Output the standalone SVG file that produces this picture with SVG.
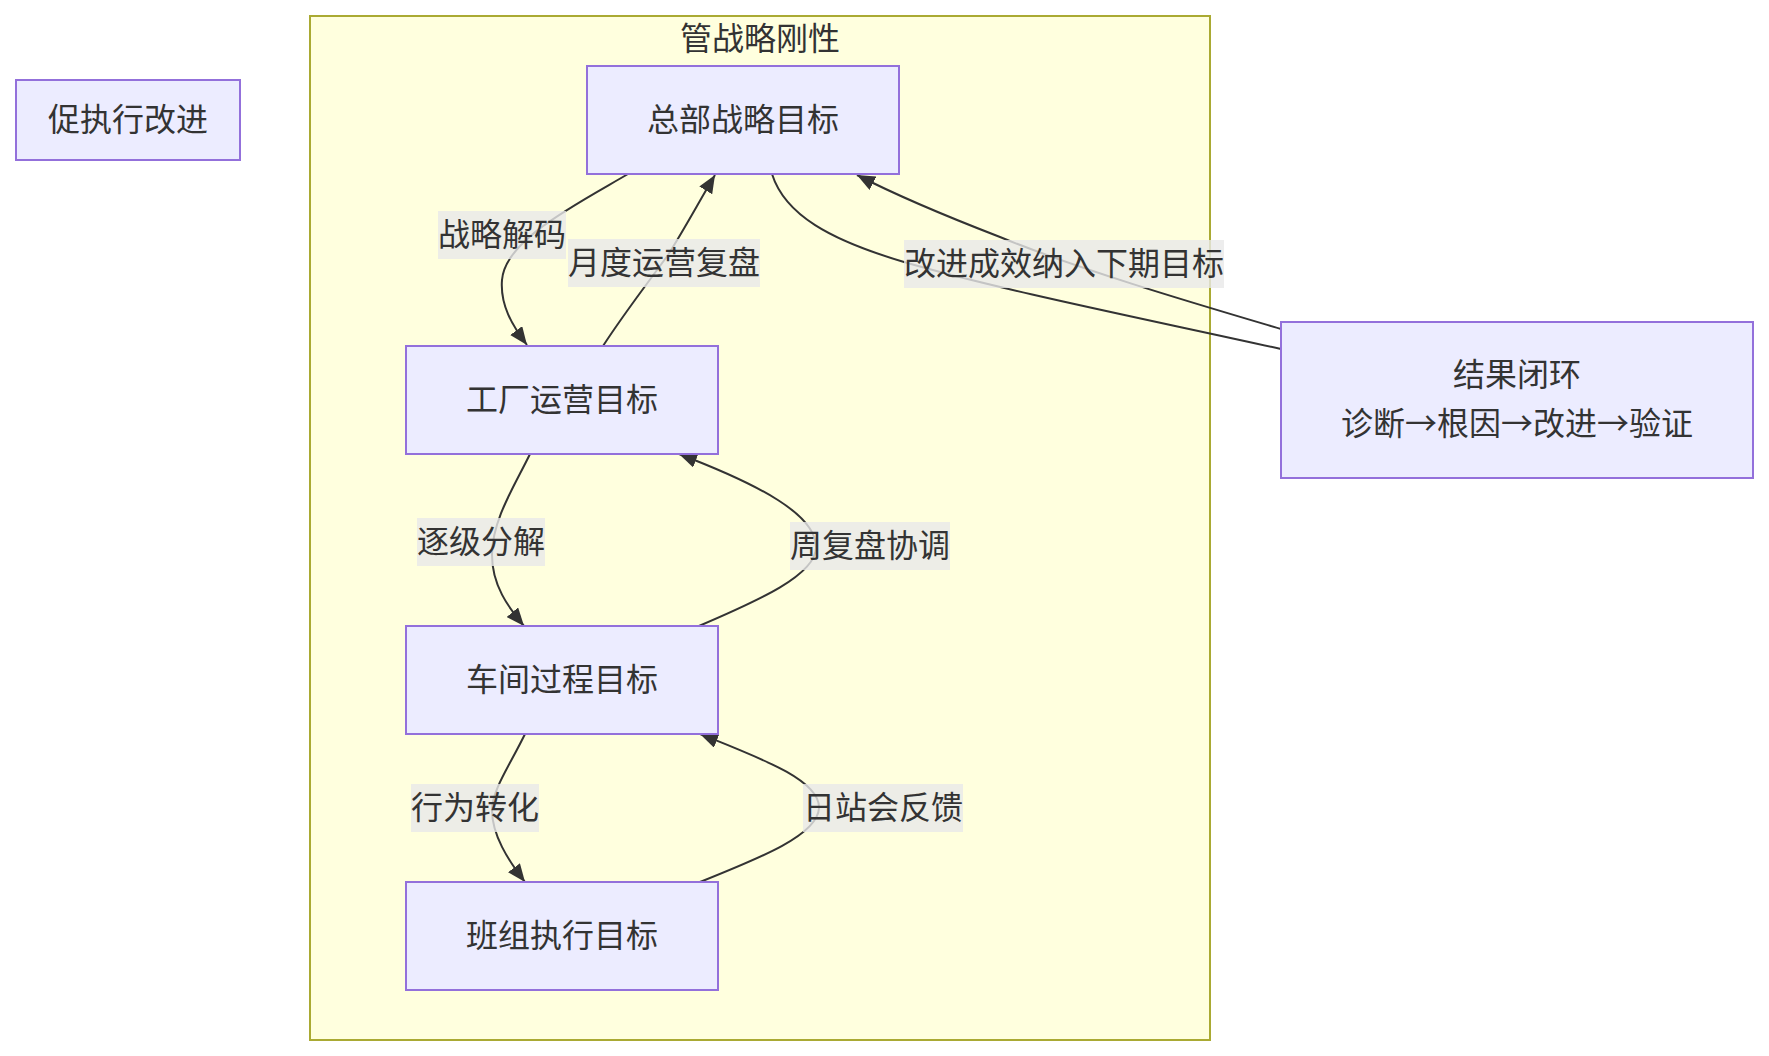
<svg xmlns="http://www.w3.org/2000/svg" width="1769" height="1056" viewBox="0 0 1769 1056">
<defs>
<style>
.cluster{fill:#ffffde;stroke:#aaaa33;stroke-width:2}
.node rect{fill:#ececff;stroke:#9370db;stroke-width:2}
text{font-family:"Noto Sans CJK SC","Liberation Sans",sans-serif;font-size:32px;fill:#333333;text-anchor:middle;dominant-baseline:central}
.edge{fill:none;stroke:#333333;stroke-width:2}
.lbl rect{fill:rgb(232,232,232);fill-opacity:0.8}
</style>
<marker id="arr" viewBox="0 0 18 15" refX="18" refY="7.5" markerWidth="18" markerHeight="15" markerUnits="userSpaceOnUse" orient="auto">
<path d="M0,0 L18,7.5 L0,15 z" fill="#333333"/>
</marker>
</defs>
<rect width="1769" height="1056" fill="#ffffff"/>
<g id="cluster-strategy">
<rect class="cluster" x="310" y="16" width="900" height="1024"/>
<text x="760" y="36">管战略刚性</text>
</g>
<g id="connectors">
<path class="edge" d="M628,174 C575,205 505,240 502,280 C500,305 512,325 527,345" marker-end="url(#arr)"/>
<path class="edge" d="M603,346 C625,312 650,280 668,255 C685,228 700,200 715,175" marker-end="url(#arr)"/>
<path class="edge" d="M772,174 C785,215 830,240 904,262 C1000,290 1150,320 1281,349"/>
<path class="edge" d="M1281,329 C1200,305 1080,270 1000,237 C930,210 890,192 857,175" marker-end="url(#arr)"/>
<path class="edge" d="M530,454 C515,485 492,520 492,555 C492,585 508,607 524,626" marker-end="url(#arr)"/>
<path class="edge" d="M699,626 C760,600 815,575 816,548 C817,515 760,485 679,454" marker-end="url(#arr)"/>
<path class="edge" d="M525,734 C510,765 492,790 492,810 C492,835 508,860 525,882" marker-end="url(#arr)"/>
<path class="edge" d="M700,882 C760,858 818,835 819,808 C820,780 760,758 700,734" marker-end="url(#arr)"/>
<g class="lbl"><rect x="438" y="211" width="128" height="48"/><text x="502" y="232">战略解码</text></g>
<g class="lbl"><rect x="568" y="239" width="192" height="48"/><text x="664" y="260">月度运营复盘</text></g>
<g class="lbl"><rect x="904" y="240" width="320" height="48"/><text x="1064" y="261">改进成效纳入下期目标</text></g>
<g class="lbl"><rect x="417" y="518" width="128" height="48"/><text x="481" y="539">逐级分解</text></g>
<g class="lbl"><rect x="790" y="522" width="160" height="48"/><text x="870" y="543">周复盘协调</text></g>
<g class="lbl"><rect x="411" y="784" width="128" height="48"/><text x="475" y="805">行为转化</text></g>
<g class="lbl"><rect x="803" y="784" width="160" height="48"/><text x="883" y="805">日站会反馈</text></g>
</g>
<g id="node-promote" class="node"><rect x="16" y="80" width="224" height="80"/><text x="128" y="117">促执行改进</text></g>
<g id="node-hq" class="node"><rect x="587" y="66" width="312" height="108"/><text x="743" y="117">总部战略目标</text></g>
<g id="node-factory" class="node"><rect x="406" y="346" width="312" height="108"/><text x="562" y="397">工厂运营目标</text></g>
<g id="node-workshop" class="node"><rect x="406" y="626" width="312" height="108"/><text x="562" y="677">车间过程目标</text></g>
<g id="node-team" class="node"><rect x="406" y="882" width="312" height="108"/><text x="562" y="933">班组执行目标</text></g>
<g id="node-result" class="node"><rect x="1281" y="322" width="472" height="156"/><text x="1517" y="372">结果闭环</text><text x="1517" y="421">诊断→根因→改进→验证</text></g>
</svg>
